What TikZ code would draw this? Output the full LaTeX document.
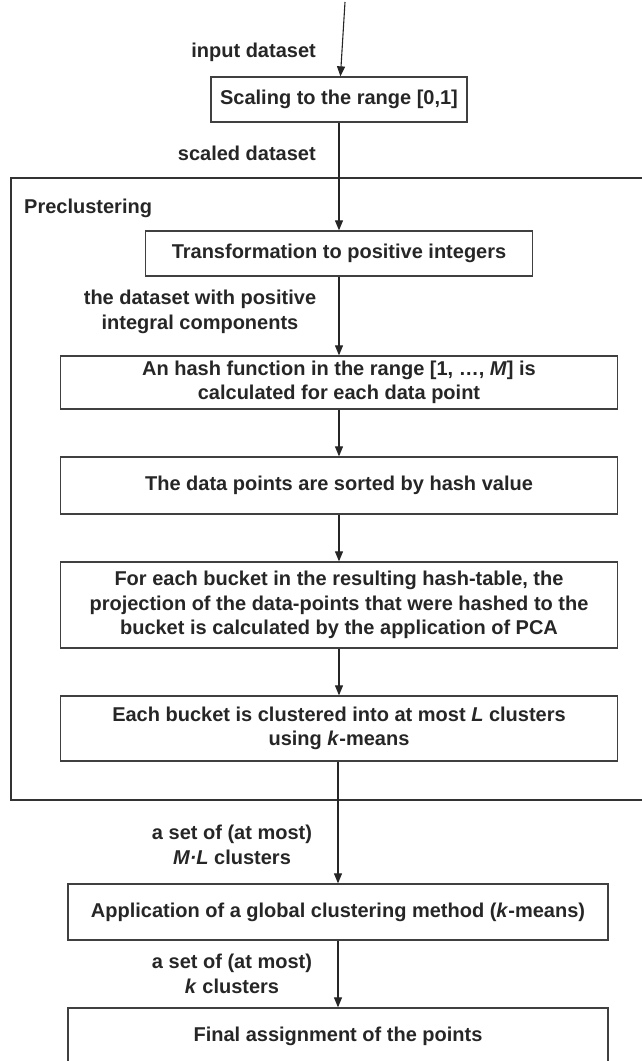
\documentclass[tikz,border=0pt]{standalone}
\usepackage{fontspec}
\setmainfont{Liberation Sans}
\usetikzlibrary{arrows.meta}

\begin{document}
\begin{tikzpicture}[x=1pt,y=-1pt,>={Triangle[length=10pt,width=8pt]},
    every node/.style={font=\bfseries\fontsize{20}{24.5}\selectfont,text=black!85,inner sep=0pt},
    box/.style={draw=black!75,line width=1.3pt,align=center},
    lbl/.style={align=center},
    flow/.style={->,line width=1.1pt,draw=black!85}]
      \useasboundingbox (0,0) rectangle (642,1061);
      \clip (0,0) rectangle (642,1061);
      \draw[line width=1.8pt,black!80] (11,178) rectangle (660,800);
      \node[anchor=west] (pre) at (24,208) {Preclustering};
      \coordinate (in) at (345,2);
      \node[anchor=east] (inlbl) at (316,52) {input dataset};
      \node[box,minimum width=256pt,minimum height=45pt] (scale) at (339,99.5) {Scaling to the range [0,1]};
      \node[anchor=east] (sclbl) at (316,153) {scaled dataset};
      \node[box,minimum width=387pt,minimum height=45pt] (ints) at (339,253.5) {Transformation to positive integers};
      \node[lbl] (intlbl) at (200,312) {the dataset with positive\\integral components};
      \node[box,minimum width=557pt,minimum height=53pt] (hash) at (339,382.5) {An hash function in the range [1, …, \textit{M}] is\\calculated for each data point};
      \node[box,minimum width=557pt,minimum height=57pt] (sort) at (339,485.5) {The data points are sorted by hash value};
      \node[box,minimum width=557pt,minimum height=86pt] (pca) at (339,605) {For each bucket in the resulting hash-table, the\\projection of the data-points that were hashed to the\\bucket is calculated by the application of PCA};
      \node[box,minimum width=557pt,minimum height=65pt] (kmb) at (339,728.5) {Each bucket is clustered into at most \textit{L} clusters\\using \textit{k}-means};
      \node[lbl] (mllbl) at (232,845) {a set of (at most)\\\textit{M·L} clusters};
      \node[box,minimum width=540pt,minimum height=56pt] (glob) at (338,912) {Application of a global clustering method (\textit{k}-means)};
      \node[lbl] (klbl) at (232,974) {a set of (at most)\\\textit{k} clusters};
      \node[box,minimum width=540pt,minimum height=56pt] (final) at (338,1036) {Final assignment of the points};
      \draw[flow] (in) -- (scale);
      \draw[flow] (scale) -- (ints);
      \draw[flow] (ints) -- (hash);
      \draw[flow] (hash) -- (sort);
      \draw[flow] (sort) -- (pca);
      \draw[flow] (pca) -- (kmb);
      \draw[flow] (kmb.south -| glob.north) -- (glob);
      \draw[flow] (glob) -- (final);
\end{tikzpicture}
\end{document}
